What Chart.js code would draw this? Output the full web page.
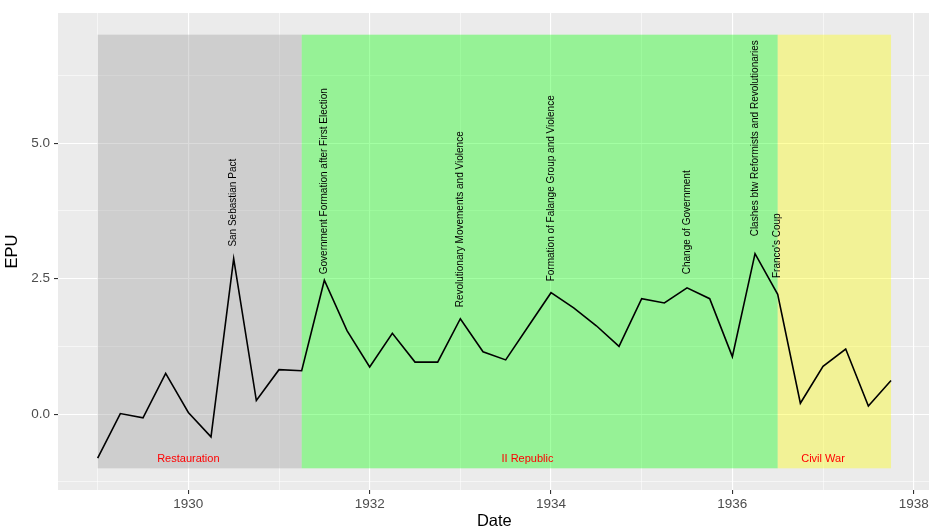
<!DOCTYPE html>
<html>
<head>
<meta charset="utf-8">
<script src="https://cdn.jsdelivr.net/npm/chart.js@4/dist/chart.umd.min.js"></script>
<style>
html,body{margin:0;padding:0;background:#fff;overflow:hidden;width:929px;height:530px;}
#wrap{position:absolute;left:0;top:0;width:960px;height:530px;}
</style>
</head>
<body>
<div id="wrap"><canvas id="c" width="960" height="530"></canvas></div>
<script>
// ---- data ----
const quarters = [1929, 1929.25, 1929.5, 1929.75, 1930, 1930.25, 1930.5, 1930.75,
  1931, 1931.25, 1931.5, 1931.75, 1932, 1932.25, 1932.5, 1932.75,
  1933, 1933.25, 1933.5, 1933.75, 1934, 1934.25, 1934.5, 1934.75,
  1935, 1935.25, 1935.5, 1935.75, 1936, 1936.25, 1936.5, 1936.75,
  1937, 1937.25, 1937.5, 1937.75];
const epu = [-0.81, 0.01, -0.07, 0.75, 0.03, -0.42, 2.87, 0.25,
  0.82, 0.80, 2.47, 1.54, 0.87, 1.49, 0.96, 0.96,
  1.76, 1.15, 1.00, 1.62, 2.24, 1.96, 1.63, 1.25,
  2.13, 2.05, 2.33, 2.13, 1.06, 2.96, 2.21, 0.20,
  0.88, 1.20, 0.15, 0.62];

const periodNames = ['Restauration', 'II Republic', 'Civil War'];
const periodStart = [1929, 1931.25, 1936.5];
const periodEnd = [1931.25, 1936.5, 1937.75];
const periodLow = [-1, -1, -1];
const periodHigh = [7, 7, 7];
const periodLabelX = [1930, 1933.74, 1937];
const periodLabelY = [-0.82, -0.82, -0.82];

const eventText = ['San Sebastian Pact', 'Government Formation after First Election',
  'Revolutionary Movements and Violence', 'Formation of Falange Group and Violence',
  'Change of Government', 'Clashes btw Reformists and Revolutionaries', "Franco's Coup"];
const eventX = [1930.5, 1931.5, 1933.0, 1934.0, 1935.5, 1936.25, 1936.5];
const eventY = [3.09, 2.58, 1.97, 2.45, 2.58, 3.28, 2.51];

const xTicks = [1929, 1930, 1931, 1932, 1933, 1934, 1935, 1936, 1937, 1938];
const xMajor = [1930, 1932, 1934, 1936, 1938];
const yTicks = [-1.25, 0, 1.25, 2.5, 3.75, 5, 6.25];
const yMajor = [0, 2.5, 5];

// ---- styles ----
const periodColors = ['rgba(160,160,160,0.38)', 'rgba(0,255,0,0.36)', 'rgba(255,255,0,0.36)'];
const FONT = 'Liberation Sans, Arial, Helvetica, sans-serif';

const panelPlugin = {
  id: 'panel',
  beforeDraw(chart) {
    const {ctx, chartArea: a} = chart;
    ctx.save();
    ctx.fillStyle = '#EBEBEB';
    ctx.fillRect(a.left, a.top, a.right - a.left, a.bottom - a.top);
    ctx.restore();
  },
  beforeDatasetsDraw(chart) {
    const {ctx, scales: {x, y}} = chart;
    ctx.save();
    for (let i = 0; i < periodNames.length; i++) {
      const x0 = x.getPixelForValue(periodStart[i]);
      const x1 = x.getPixelForValue(periodEnd[i]);
      const y0 = y.getPixelForValue(periodHigh[i]);
      const y1 = y.getPixelForValue(periodLow[i]);
      ctx.fillStyle = periodColors[i];
      ctx.fillRect(x0, y0, x1 - x0, y1 - y0);
    }
    ctx.restore();
  },
  afterDatasetsDraw(chart) {
    const {ctx, scales: {x, y}} = chart;
    ctx.save();
    ctx.fillStyle = '#FF0000';
    ctx.font = '11px ' + FONT;
    ctx.textAlign = 'center';
    ctx.textBaseline = 'middle';
    for (let i = 0; i < periodNames.length; i++) {
      ctx.fillText(periodNames[i], x.getPixelForValue(periodLabelX[i]), y.getPixelForValue(periodLabelY[i]));
    }
    ctx.fillStyle = '#000000';
    ctx.font = '10px ' + FONT;
    ctx.textAlign = 'left';
    for (let i = 0; i < eventText.length; i++) {
      ctx.save();
      ctx.translate(x.getPixelForValue(eventX[i]), y.getPixelForValue(eventY[i]));
      ctx.rotate(-Math.PI / 2);
      ctx.fillText(eventText[i], 0, 0);
      ctx.restore();
    }
    ctx.restore();
  }
};

const gridWidth = (majors) => (c) => (c.tick && majors.includes(c.tick.value)) ? 1.1 : 0.55;
const tickCol = (majors) => (c) => (c.tick && majors.includes(c.tick.value)) ? '#333333' : 'rgba(0,0,0,0)';

new Chart(document.getElementById('c'), {
  type: 'line',
  data: {
    datasets: [{
      data: quarters.map((q, i) => ({x: q, y: epu[i]})),
      borderColor: '#000000',
      borderWidth: 1.6,
      pointRadius: 0,
      tension: 0,
      fill: false
    }]
  },
  options: {
    responsive: false,
    animation: false,
    devicePixelRatio: 1,
    layout: {padding: {left: 0, top: 13, right: 29.3, bottom: 0}},
    plugins: {legend: {display: false}, tooltip: {enabled: false}},
    scales: {
      x: {
        type: 'linear',
        min: 1928.5625,
        max: 1938.1875,
        afterBuildTicks: (s) => { s.ticks = xTicks.map(v => ({value: v})); },
        afterFit: (s) => { s.height = 40; },
        border: {display: false},
        grid: {color: '#FFFFFF', lineWidth: gridWidth(xMajor), drawTicks: true, tickLength: 4,
               tickColor: tickCol(xMajor), tickWidth: 1.1},
        ticks: {
          autoSkip: false, maxRotation: 0, padding: 2, color: '#4D4D4D',
          font: {family: FONT, size: 13.5},
          callback: (v) => xMajor.includes(v) ? String(v) : ''
        },
        title: {display: true, text: 'Date', color: '#000000', font: {family: FONT, size: 16.5, lineHeight: 1},
                padding: {top: 0, bottom: 0}}
      },
      y: {
        type: 'linear',
        min: -1.4,
        max: 7.4,
        afterBuildTicks: (s) => { s.ticks = yTicks.map(v => ({value: v})); },
        afterFit: (s) => { s.width = 58; },
        border: {display: false},
        grid: {color: '#FFFFFF', lineWidth: gridWidth(yMajor), drawTicks: true, tickLength: 4,
               tickColor: tickCol(yMajor), tickWidth: 1.1},
        ticks: {
          autoSkip: false, padding: 4, color: '#4D4D4D',
          font: {family: FONT, size: 13.5},
          callback: (v) => yMajor.includes(v) ? v.toFixed(1) : ''
        },
        title: {display: true, text: 'EPU', color: '#000000', font: {family: FONT, size: 16.5, lineHeight: 1},
                padding: {top: 4, bottom: 0}}
      }
    }
  },
  plugins: [panelPlugin]
});
</script>
</body>
</html>
